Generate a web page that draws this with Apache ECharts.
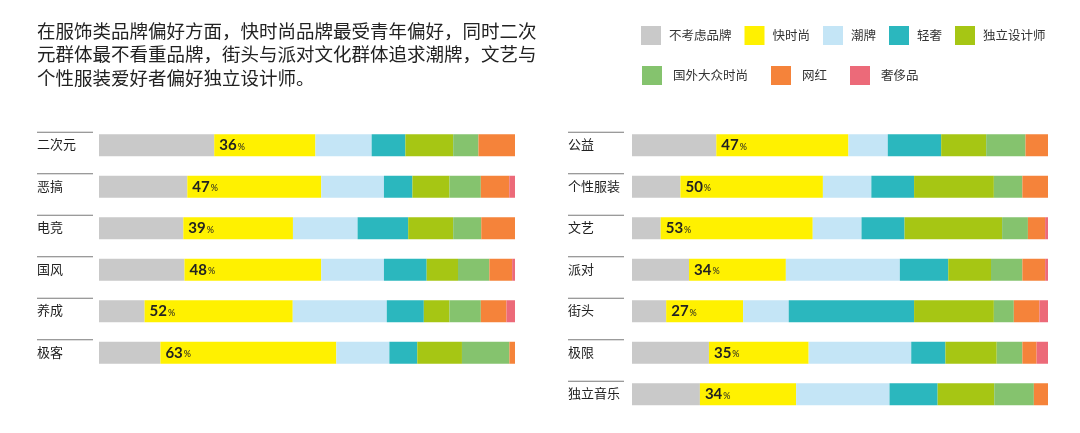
<!DOCTYPE html>
<html>
<head>
<meta charset="utf-8">
<script src="https://cdn.jsdelivr.net/npm/echarts@6/dist/echarts.min.js"></script>
<style>
  html, body { margin: 0; padding: 0; background: #fff; }
  #chart { width: 1080px; height: 433px; }
</style>
</head>
<body>
<div id="chart"></div>
<script>
// categories
var leftCats = ["二次元", "恶搞", "电竞", "国风", "养成", "极客"];
var rightCats = ["公益", "个性服装", "文艺", "派对", "街头", "极限", "独立音乐"];
var brands = ["不考虑品牌", "快时尚", "潮牌", "轻奢", "独立设计师", "国外大众时尚", "网红", "奢侈品"];
var colors = ["#c9c9c9", "#fff100", "#c4e5f6", "#2bb7be", "#a6c614", "#85c36e", "#f5833a", "#ec6a79"];

// % of respondents per group (快时尚 = labelled value)
var noBrandL   = [41, 31, 30, 30, 16, 22];
var fastL      = [36, 47, 39, 48, 52, 63];
var trendL     = [20, 22, 23, 22, 33, 19];
var lightLuxL  = [12, 10, 18, 15, 13, 10];
var indieL     = [17, 13, 16, 11, 9, 16];
var foreignL   = [9, 11, 10, 11, 11, 17];
var wanghongL  = [13, 10, 12, 8, 9, 2];
var luxuryL    = [0, 2, 0, 1, 3, 0];

var noBrandR   = [30, 17, 10, 20, 12, 27, 24];
var fastR      = [47, 50, 53, 34, 27, 35, 34];
var trendR     = [14, 17, 17, 40, 16, 36, 33];
var lightLuxR  = [19, 15, 15, 17, 44, 12, 17];
var indieR     = [16, 28, 34, 15, 28, 18, 20];
var foreignR   = [14, 10, 9, 11, 7, 9, 14];
var wanghongR  = [8, 9, 6, 8, 9, 5, 5];
var luxuryR    = [0, 0, 1, 1, 3, 4, 0];

var leftSets = [noBrandL, fastL, trendL, lightLuxL, indieL, foreignL, wanghongL, luxuryL];
var rightSets = [noBrandR, fastR, trendR, lightLuxR, indieR, foreignR, wanghongR, luxuryR];

var cjk = '"Noto Sans CJK SC", "Noto Sans", sans-serif';

// each bar fills the full width: share of the row total
function rowTotals(sets) {
  var t = [];
  for (var i = 0; i < sets[0].length; i++) {
    var s = 0;
    sets.forEach(function (arr) { s += arr[i]; });
    t.push(s);
  }
  return t;
}

function makeSeries(sets, axisIdx, stackName) {
  var totals = rowTotals(sets);
  return sets.map(function (arr, k) {
    var s = {
      name: brands[k],
      type: "bar",
      stack: stackName,
      xAxisIndex: axisIdx,
      yAxisIndex: axisIdx,
      barWidth: 22,
      itemStyle: { color: colors[k] },
      data: arr.map(function (v, i) { return v / totals[i] * 100; })
    };
    if (k === 1) {
      s.label = {
        show: true,
        position: "insideLeft",
        distance: 5,
        formatter: function (p) { return "{n|" + arr[p.dataIndex] + "}{p|%}"; },
        rich: {
          n: { fontSize: 15, fontWeight: "bold", color: "#222", fontFamily: "Lato, sans-serif" },
          p: { fontSize: 9, color: "#222", fontFamily: "Lato, sans-serif", padding: [3, 0, 0, 1] }
        }
      };
    }
    return s;
  });
}

var catLabel = {
  align: "left",
  formatter: function (v) { return "{line|}\n{name|" + v + "}\n{sp|}"; },
  rich: {
    line: { width: 56, height: 1, backgroundColor: "#7a7a7a", align: "left" },
    name: { fontSize: 13, color: "#222", lineHeight: 23, fontFamily: cjk, align: "left" },
    sp: { height: 3, width: 1 }
  }
};

var chart = echarts.init(document.getElementById("chart"));
var option = {
  backgroundColor: "#fff",
  animation: false,
  title: {
    text: "在服饰类品牌偏好方面，快时尚品牌最受青年偏好，同时二次\n元群体最不看重品牌，街头与派对文化群体追求潮牌，文艺与\n个性服装爱好者偏好独立设计师。",
    left: 37,
    top: 19,
    padding: 0,
    textStyle: { fontSize: 18.5, lineHeight: 23.5, fontWeight: "normal", color: "#222", fontFamily: cjk }
  },
  legend: [
    {
      data: brands.slice(0, 5),
      left: 641, top: 26, padding: 0,
      icon: "rect", itemWidth: 20, itemHeight: 19, itemGap: 13,
      selectedMode: false,
      textStyle: { fontSize: 12.5, color: "#333", fontFamily: cjk, padding: [0, 0, 0, 3] }
    },
    {
      data: brands.slice(5),
      left: 642, top: 66, padding: 0,
      icon: "rect", itemWidth: 20, itemHeight: 19, itemGap: 23,
      selectedMode: false,
      textStyle: { fontSize: 12.5, color: "#333", fontFamily: cjk, padding: [0, 0, 0, 6] }
    }
  ],
  grid: [
    { left: 99, width: 416, top: 124.5, height: 249 },
    { left: 632, width: 416, top: 124.5, height: 290.5 }
  ],
  xAxis: [
    { type: "value", gridIndex: 0, min: 0, max: 100, show: false },
    { type: "value", gridIndex: 1, min: 0, max: 100, show: false }
  ],
  yAxis: [
    {
      type: "category", gridIndex: 0, data: leftCats, inverse: true,
      axisLine: { show: false }, axisTick: { show: false },
      axisLabel: Object.assign({ margin: 62 }, catLabel)
    },
    {
      type: "category", gridIndex: 1, data: rightCats, inverse: true,
      axisLine: { show: false }, axisTick: { show: false },
      axisLabel: Object.assign({ margin: 64 }, catLabel)
    }
  ],
  series: makeSeries(leftSets, 0, "left").concat(makeSeries(rightSets, 1, "right"))
};
chart.setOption(option);
</script>
</body>
</html>
